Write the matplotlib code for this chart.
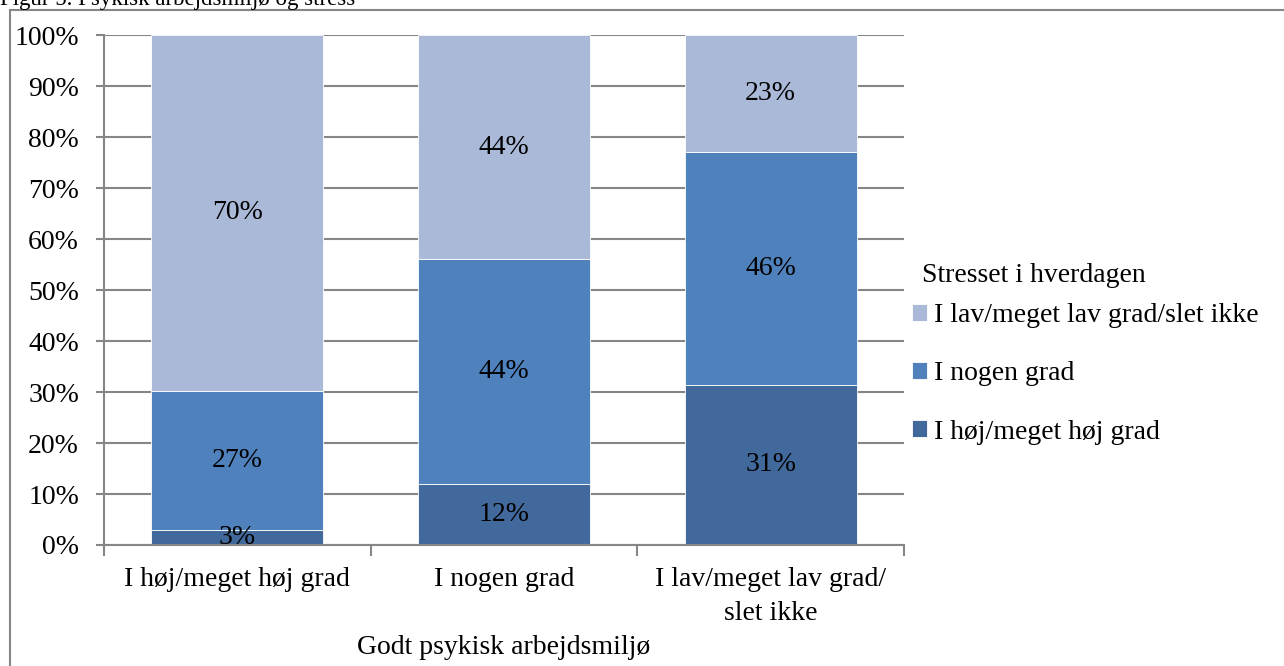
import matplotlib.pyplot as plt
import numpy as np
from matplotlib.patches import Rectangle
from matplotlib.ticker import FuncFormatter

plt.rcParams['font.family'] = ['Liberation Serif', 'DejaVu Serif']

# ===========================
# DATA
# ===========================
categories = ["I høj/meget høj grad", "I nogen grad", "I lav/meget lav grad/\nslet ikke"]
series_names = ["I høj/meget høj grad", "I nogen grad", "I lav/meget lav grad/slet ikke"]
hoej = [3.0, 12.0, 31.4]
nogen = [27.2, 44.0, 45.7]
lav = [69.8, 44.0, 22.9]
colors = ["#41699B", "#4F81BD", "#AAB9D7"]

FS = 20

# ===========================
# PLOT
# ===========================
fig = plt.figure(figsize=(12.84, 6.66), dpi=100)
ax = fig.add_axes([104 / 1284, 1 - 545 / 666, 800 / 1284, 510 / 666])

x = np.arange(len(categories))
width = 0.645
bottom = np.zeros(len(categories))
for name, vals, c in zip(series_names, [hoej, nogen, lav], colors):
    ax.bar(x, vals, width, bottom=bottom, color=c, label=name,
           edgecolor="white", linewidth=0.6, zorder=2)
    for xi, b, v in zip(x, bottom, vals):
        ax.text(xi, b + v / 2, f"{round(v):d}%", ha="center", va="center",
                fontsize=FS, color="black", zorder=3)
    bottom += np.array(vals)

ax.set_xlim(-0.5, 2.5)
ax.set_ylim(0, 100)
ax.set_yticks(np.arange(0, 101, 10))
ax.yaxis.set_major_formatter(FuncFormatter(lambda v, p: f"{int(v)}%"))
ax.yaxis.grid(True, color="#868686", linewidth=1.5, zorder=0)
ax.set_axisbelow(True)

ax.set_xticks(x)
ax.set_xticklabels(categories, fontsize=FS, linespacing=1.45)
ax.set_xticks([-0.5, 0.5, 1.5, 2.5], minor=True)
ax.tick_params(axis="x", which="major", length=0, pad=16)
ax.tick_params(axis="x", which="minor", length=8, width=1.5, color="#868686", direction="out")
ax.tick_params(axis="y", length=6, width=1.5, color="#868686", labelsize=FS, pad=12)

for s in ["top", "right"]:
    ax.spines[s].set_visible(False)
for s in ["left", "bottom"]:
    ax.spines[s].set_color("#868686")
    ax.spines[s].set_linewidth(1.5)

# axis title placed as in the reference
fig.text(504 / 1284, 1 - 648 / 666, "Godt psykisk arbejdsmiljø", fontsize=FS,
         ha="center", va="center")

handles, labels = ax.get_legend_handles_labels()
leg = fig.legend(handles[::-1], labels[::-1], loc="upper left",
                 bbox_to_anchor=(912 / 1284, 1 - 303 / 666),
                 fontsize=FS, frameon=False, handlelength=0.55, handleheight=0.55,
                 handletextpad=0.25, labelspacing=1.2, borderaxespad=0,
                 borderpad=0)
fig.text(922 / 1284, 1 - 275 / 666, "Stresset i hverdagen", fontsize=FS,
         ha="left", va="center")

# outer frame and cropped caption
fig.patches.append(Rectangle((10 / 1284, -0.01), 1.02, 1 - 10 / 666 + 0.01,
                             transform=fig.transFigure, fill=False,
                             edgecolor="#868686", linewidth=1.5))
fig.text(0, 1 - 5 / 666, "Figur 5. Psykisk arbejdsmiljø og stress",
         fontsize=16.5, va="baseline", ha="left")

fig.savefig("out.png", dpi=100)
